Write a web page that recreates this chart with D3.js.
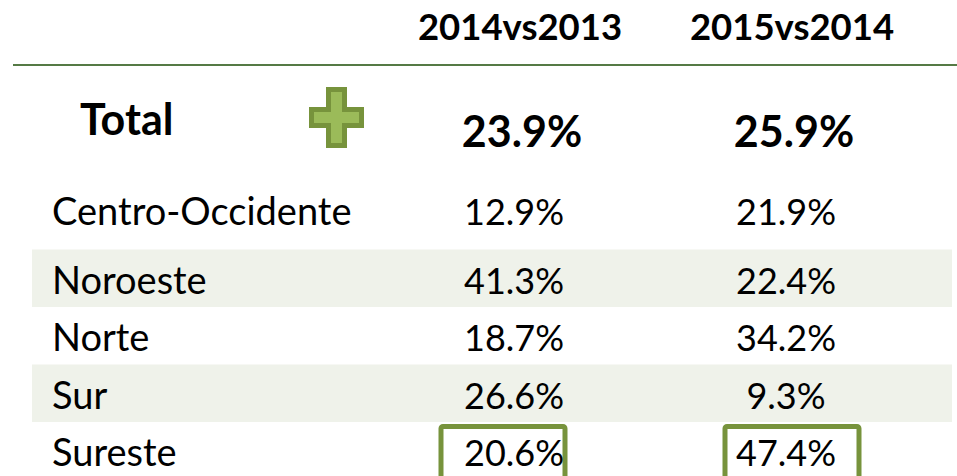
<!DOCTYPE html>
<html>
<head>
<meta charset="utf-8">
<script src="https://cdn.jsdelivr.net/npm/d3@7"></script>
<style>
  body { margin: 0; background: #fff; }
  svg { display: block; font-family: Lato, "Open Sans", sans-serif; }
</style>
</head>
<body>
<svg id="chart"></svg>
<script>
var columns = ["2014vs2013", "2015vs2014"];
var totals = [23.9, 25.9];
var regions = ["Centro-Occidente", "Noroeste", "Norte", "Sur", "Sureste"];
var v2014 = [12.9, 41.3, 18.7, 26.6, 20.6];
var v2015 = [21.9, 22.4, 34.2, 9.3, 47.4];
var highlighted = ["Sureste"];

var width = 957, height = 476;
var dark = "#77933c", light = "#9bbb59", band = "#eff2ea";

var svg = d3.select("#chart").attr("width", width).attr("height", height);

var x = d3.scaleBand().domain(columns).range([380, 924]);
var y = d3.scaleBand().domain(regions).range([192, 479.5]);
var fmt = function(d) { return d3.format(".1f")(d) + "%"; };
var cx = function(c) { return x(c) + x.bandwidth() / 2; };

// header
svg.selectAll("text.head")
    .data(columns)
    .enter().append("text")
    .attr("class", "head")
    .attr("x", function(d) { return cx(d) + 4; })
    .attr("y", 40)
    .attr("text-anchor", "middle")
    .attr("font-weight", "bold")
    .attr("font-size", 36.5)
    .text(function(d) { return d; });

svg.append("line")
    .attr("x1", 13).attr("x2", width)
    .attr("y1", 65).attr("y2", 65)
    .attr("stroke", "#557a45")
    .attr("stroke-width", 2);

// total row
svg.append("text")
    .attr("x", 80).attr("y", 135)
    .attr("font-weight", "bold")
    .attr("font-size", 43)
    .text("Total");

svg.append("path")
    .attr("transform", "translate(336.5,117.5)")
    .attr("d", "M-8,-28H8V-8H25V8H8V28H-8V8H-25V-8H-8Z")
    .attr("fill", light)
    .attr("stroke", dark)
    .attr("stroke-width", 5);

svg.selectAll("text.total")
    .data(totals)
    .enter().append("text")
    .attr("class", "total")
    .attr("x", function(d, i) { return cx(columns[i]) + 6; })
    .attr("y", 147)
    .attr("text-anchor", "middle")
    .attr("font-weight", "bold")
    .attr("font-size", 43)
    .text(fmt);

// striped rows
svg.selectAll("rect.band")
    .data(regions.filter(function(d, i) { return i % 2 === 1; }))
    .enter().append("rect")
    .attr("class", "band")
    .attr("x", 32).attr("width", 952 - 32)
    .attr("y", function(d) { return y(d); })
    .attr("height", y.bandwidth())
    .attr("fill", band);

// highlight boxes
var boxDx = [-11, 1];
var boxes = [];
highlighted.forEach(function(r) {
    columns.forEach(function(c, i) { boxes.push({r: r, c: c, i: i}); });
});
svg.selectAll("rect.box")
    .data(boxes)
    .enter().append("rect")
    .attr("class", "box")
    .attr("x", function(d) { return cx(d.c) + boxDx[d.i] - 64; })
    .attr("y", function(d) { return y(d.r) + 4.5; })
    .attr("width", function(d, i) { return i === 0 ? 124 : 134; })
    .attr("height", 70)
    .attr("rx", 2)
    .attr("fill", "#fff")
    .attr("stroke", dark)
    .attr("stroke-width", 5);

var baseY = function(d, i) { return y(d) + 44 - (i === 0 ? 11 : 0); };

svg.selectAll("text.region")
    .data(regions)
    .enter().append("text")
    .attr("class", "region")
    .attr("x", 52)
    .attr("y", baseY)
    .attr("font-size", 38)
    .text(function(d) { return d; });

[v2014, v2015].forEach(function(vals, k) {
    svg.selectAll("text.val" + k)
        .data(vals)
        .enter().append("text")
        .attr("class", "val" + k)
        .attr("x", cx(columns[k]) - 2)
        .attr("y", function(d, i) { return baseY(regions[i], i); })
        .attr("text-anchor", "middle")
        .attr("font-size", 36)
        .text(fmt);
});
</script>
</body>
</html>
